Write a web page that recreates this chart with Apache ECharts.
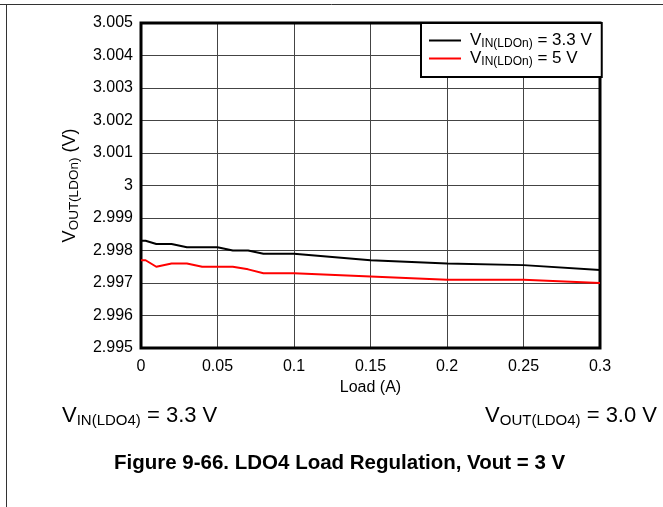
<!DOCTYPE html>
<html>
<head>
<meta charset="utf-8">
<script src="https://cdn.jsdelivr.net/npm/echarts@6/dist/echarts.min.js"></script>
<style>
  html, body { margin: 0; padding: 0; background: #fff; }
  #chart { width: 663px; height: 507px; }
</style>
</head>
<body>
<div id="chart"></div>
<script>
// Load current (A)
const loadA = [0, 0.003, 0.01, 0.02, 0.03, 0.04, 0.05, 0.06, 0.07, 0.08, 0.1, 0.15, 0.2, 0.25, 0.3];
// Output voltage (V) with VIN = 3.3 V
const vout33 = [2.9983, 2.9983, 2.9982, 2.9982, 2.9981, 2.9981, 2.9981, 2.9980, 2.9980, 2.9979, 2.9979, 2.9977, 2.9976, 2.99755, 2.9974];
// Output voltage (V) with VIN = 5 V
const vout5 = [2.9977, 2.9977, 2.9975, 2.9976, 2.9976, 2.9975, 2.9975, 2.9975, 2.99742, 2.9973, 2.9973, 2.9972, 2.9971, 2.9971, 2.9970];

const xTicks = [0, 0.05, 0.1, 0.15, 0.2, 0.25, 0.3];
const yTicks = [2.995, 2.996, 2.997, 2.998, 2.999, 3, 3.001, 3.002, 3.003, 3.004, 3.005];

const FONT = '"Liberation Sans", Arial, sans-serif';

const chart = echarts.init(document.getElementById('chart'), null, { renderer: 'canvas' });

const pair = (xs, ys) => xs.map((x, i) => [x, ys[i]]);
const tickText = v => String(parseFloat(v.toFixed(3)));

// rich-text styles for "V" with a subscript
const subRich = (main, sub, drop, key) => ({
  v: { fontFamily: FONT, fontSize: main, [key]: '#000' },
  s: { fontFamily: FONT, fontSize: sub, [key]: '#000', verticalAlign: 'bottom', padding: [drop, 0, 0, 0] }
});

const option = {
  animation: false,
  backgroundColor: '#fff',
  textStyle: { fontFamily: FONT },
  grid: {
    left: 141, top: 23, width: 459, height: 325,
    show: true, borderColor: '#000', borderWidth: 3, backgroundColor: 'transparent', z: 3
  },
  xAxis: {
    type: 'value',
    min: xTicks[0], max: xTicks[xTicks.length - 1], interval: 0.05,
    name: 'Load (A)', nameLocation: 'middle', nameGap: 30,
    nameTextStyle: { fontFamily: FONT, fontSize: 16, color: '#000' },
    axisLine: { show: false },
    axisTick: { show: false },
    axisLabel: { fontFamily: FONT, fontSize: 16, color: '#000', margin: 11, formatter: tickText },
    splitLine: { show: true, lineStyle: { color: '#444', width: 1 } }
  },
  yAxis: {
    type: 'value',
    min: yTicks[0], max: yTicks[yTicks.length - 1], interval: 0.001,
    name: '{v|V}{s|OUT(LDOn)}{v| (V)}', nameLocation: 'middle', nameGap: 60, nameRotate: 90,
    nameTextStyle: { color: '#000', rich: subRich(18, 13.5, 7, 'color') },
    axisLine: { show: false },
    axisTick: { show: false },
    axisLabel: { fontFamily: FONT, fontSize: 16, color: '#000', margin: 8, formatter: tickText },
    splitLine: { show: true, lineStyle: { color: '#444', width: 1 } }
  },
  legend: {
    orient: 'vertical',
    left: 421, top: 23,
    itemWidth: 32, itemHeight: 2, itemGap: 0,
    padding: [9, 10, 9, 8],
    backgroundColor: '#fff', borderColor: '#000', borderWidth: 2,
    icon: 'rect',
    z: 10,
    data: ['VIN33', 'VIN5'],
    formatter: name => name === 'VIN33'
      ? '{v|V}{s|IN(LDOn)}{v| = 3.3 V}'
      : '{v|V}{s|IN(LDOn)}{v| = 5 V}',
    textStyle: { color: '#000', padding: [0, 0, 0, 4], rich: subRich(17, 12, 7, 'color') }
  },
  series: [
    {
      name: 'VIN33', type: 'line', data: pair(loadA, vout33),
      showSymbol: false, symbol: 'none',
      lineStyle: { color: '#000', width: 2 }, itemStyle: { color: '#000' }, z: 5
    },
    {
      name: 'VIN5', type: 'line', data: pair(loadA, vout5),
      showSymbol: false, symbol: 'none',
      lineStyle: { color: '#ff0000', width: 2 }, itemStyle: { color: '#ff0000' }, z: 5
    }
  ],
  graphic: [
    { type: 'line', shape: { x1: 0, y1: 4.5, x2: 663, y2: 4.5 }, style: { stroke: '#333', lineWidth: 1 } },
    { type: 'line', shape: { x1: 6.5, y1: 4, x2: 6.5, y2: 507 }, style: { stroke: '#333', lineWidth: 1 } },
    {
      type: 'text', left: 62, top: 405,
      style: { text: '{v|V}{s|IN(LDO4)}{v| = 3.3 V}', rich: subRich(22, 15, 9, 'fill') }
    },
    {
      type: 'text', right: 6, top: 405,
      style: { text: '{v|V}{s|OUT(LDO4)}{v| = 3.0 V}', rich: subRich(22, 15, 9, 'fill') }
    },
    {
      type: 'text', left: 114, top: 453,
      style: {
        text: 'Figure 9-66. LDO4 Load Regulation, Vout = 3 V',
        fontFamily: FONT, fontSize: 20.5, fontWeight: 'bold', fill: '#000'
      }
    }
  ]
};

chart.setOption(option);
</script>
</body>
</html>
